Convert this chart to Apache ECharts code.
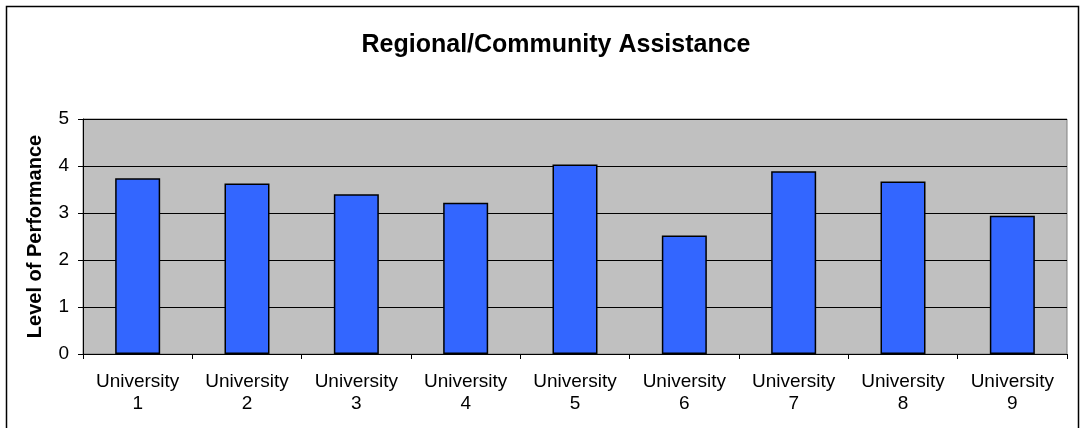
<!DOCTYPE html>
<html><head><meta charset="utf-8">
<script src="https://cdn.jsdelivr.net/npm/echarts@6/dist/echarts.min.js"></script>
<style>html,body{margin:0;padding:0;background:#fff}#c{width:1085px;height:428px}</style>
</head><body><div id="c"></div>
<script>
const categories = ['University\n1','University\n2','University\n3','University\n4','University\n5','University\n6','University\n7','University\n8','University\n9'];
const values = [3.74, 3.63, 3.40, 3.22, 4.03, 2.52, 3.89, 3.67, 2.94];
const yTicks = [0, 1, 2, 3, 4, 5];

const FONT = 'Liberation Sans, Arial, sans-serif';
const chart = echarts.init(document.getElementById('c'));
chart.setOption({
  animation: false,
  backgroundColor: '#fff',
  title: {
    text: 'Regional/Community Assistance',
    left: 551, top: 28, textAlign: 'center',
    textStyle: {fontFamily: FONT, fontWeight: 'bold', fontSize: 25, color: '#000'}
  },
  graphic: [{
    type: 'rect', shape: {x: 6.5, y: 6.5, width: 1072, height: 440},
    style: {fill: 'none', stroke: '#000', lineWidth: 1.5}, silent: true, z: -1
  }],
  grid: {left: 83, right: 18, top: 119, bottom: 74, show: true, backgroundColor: '#C0C0C0', borderColor: '#808080', borderWidth: 1},
  xAxis: {
    type: 'category', data: categories,
    axisLine: {show: true, lineStyle: {color: '#000', width: 1}},
    axisTick: {show: true, alignWithLabel: false, length: 5, lineStyle: {color: '#000'}},
    axisLabel: {fontFamily: FONT, fontSize: 19, color: '#000', lineHeight: 22, margin: 17, interval: 0}
  },
  yAxis: {
    type: 'value', min: yTicks[0], max: yTicks[yTicks.length-1], interval: 1,
    name: 'Level of Performance', nameLocation: 'middle', nameGap: 38, nameRotate: 90,
    nameTextStyle: {fontFamily: FONT, fontWeight: 'bold', fontSize: 20, color: '#000'},
    axisLine: {show: true, lineStyle: {color: '#000', width: 1}},
    axisTick: {show: true, length: 5, inside: false, lineStyle: {color: '#000'}},
    axisLabel: {fontFamily: FONT, fontSize: 19, color: '#000', margin: 14},
    splitLine: {show: true, lineStyle: {color: '#000', width: 1}}
  },
  series: [{
    type: 'bar', data: values, barWidth: 45,
    itemStyle: {color: '#3366FF', borderColor: '#000', borderWidth: 1.5}
  }]
});
</script></body></html>
